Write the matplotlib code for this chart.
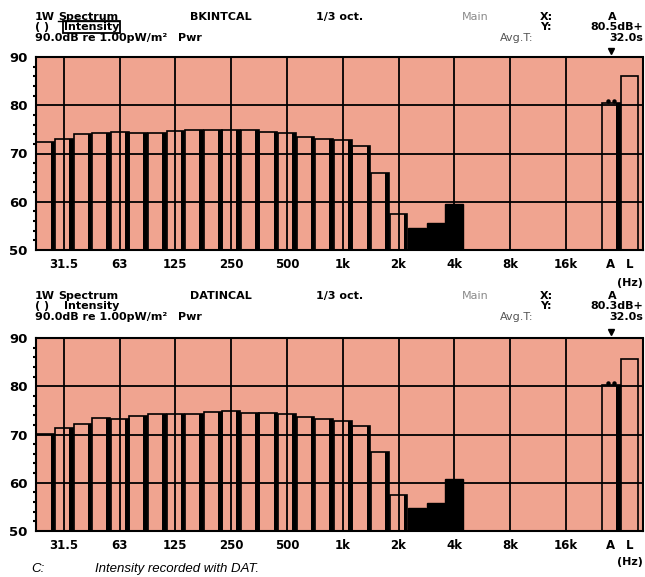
import numpy as np
import matplotlib
matplotlib.use("Agg")
import matplotlib.pyplot as plt

# 1/3-octave bands 25 Hz .. 20 kHz (index positions on the x axis)
bands = ["25", "31.5", "40", "50", "63", "80", "100", "125", "160", "200",
         "250", "315", "400", "500", "630", "800", "1k", "1.25k", "1.6k", "2k",
         "2.5k", "3.15k", "4k", "5k", "6.3k", "8k", "10k", "12.5k", "16k", "20k"]

# levels in dB (bands above 4k are below the 50 dB floor)
bk_levels = [72.3, 73.0, 74.1, 74.3, 74.4, 74.3, 74.3, 74.7, 74.8, 74.8,
             74.9, 74.8, 74.4, 74.2, 73.4, 73.0, 72.7, 71.5, 66.0, 57.4,
             54.6, 55.6, 59.6]
dat_levels = [70.2, 71.4, 72.1, 73.4, 73.3, 73.8, 74.3, 74.3, 74.3, 74.6,
              74.8, 74.4, 74.4, 74.3, 73.7, 73.3, 72.7, 71.8, 66.3, 57.5,
              54.7, 55.8, 60.7]
dark_bands = ["2.5k", "3.15k", "4k"]

bk_total = {"A": 80.5, "L": 86.0}
dat_total = {"A": 80.3, "L": 85.7}

tick_names = ["31.5", "63", "125", "250", "500", "1k", "2k", "4k", "8k", "16k"]
yticks = [50, 60, 70, 80, 90]

BG = "#f0a490"
W, H = 645, 577
FONT = "DejaVu Sans"
HS = 8  # header font size


def px(x, y):
    return x / W, 1 - y / H


def draw_panel(ax, levels, totals):
    ax.set_facecolor(BG)
    floor = 50
    x = np.arange(len(levels))
    heights = np.array(levels) - floor
    dark = np.array([bands[i] in dark_bands for i in x])

    # octave / level grid
    tick_pos = [bands.index(t) for t in tick_names]
    for p in tick_pos:
        ax.axvline(p, color="black", lw=1.3, zorder=1)
    for yv in yticks[1:-1]:
        ax.axhline(yv, color="black", lw=1.3, zorder=1)

    # open bars: thin left outline, heavy right edge
    ax.bar(x[~dark], heights[~dark], bottom=floor, width=0.96, fill=False,
           edgecolor="black", linewidth=1.2, zorder=3)
    ax.bar(x[~dark] + 0.38, heights[~dark], bottom=floor, width=0.2,
           color="black", linewidth=0, zorder=3)
    ax.bar(x[dark], heights[dark], bottom=floor, width=0.96, color="black",
           edgecolor="black", linewidth=1.0, zorder=3)

    # A and L totals
    xa = len(bands) + 0.42
    xl = xa + 1.0
    ax.bar([xa], [totals["A"] - floor], bottom=floor, width=0.96, fill=False,
           edgecolor="black", linewidth=1.2, zorder=3)
    ax.bar([xa + 0.38], [totals["A"] - floor], bottom=floor, width=0.2,
           color="black", linewidth=0, zorder=3)
    ax.bar([xl], [totals["L"] - floor], bottom=floor, width=0.9, fill=False,
           edgecolor="black", linewidth=1.2, zorder=3)
    ax.plot([xa - 0.15, xa + 0.15], [totals["A"] + 0.3] * 2, ls="none",
            marker="o", ms=2.2, color="black", zorder=4)
    ax.plot([xa], [91.2], marker="v", ms=4, color="black", clip_on=False)

    ax.set_xlim(-0.5, 32.15)
    ax.set_ylim(50, 90)
    ax.set_xticks(tick_pos + [xa, xl])
    ax.set_xticklabels(tick_names + ["A", "L"], fontsize=8.5,
                       fontweight="bold", family=FONT)
    ax.set_yticks(yticks)
    ax.set_yticklabels([str(v) for v in yticks], fontsize=9.5,
                       fontweight="bold", family=FONT)
    ax.set_yticks(np.arange(50, 91, 2), minor=True)
    ax.tick_params(axis="x", length=0, pad=6)
    ax.tick_params(axis="y", which="major", length=0, pad=6)
    ax.tick_params(axis="y", which="minor", length=2, width=1.5,
                   direction="out")
    for s in ax.spines.values():
        s.set_linewidth(1.5)
        s.set_zorder(5)
    ax.spines["right"].set_linestyle((0, (2, 1)))


def header(y0, name, yval, boxed):
    kw = dict(fontsize=HS, fontweight="bold", family=FONT, va="center")
    y1, y2, y3 = y0, y0 + 10, y0 + 21
    fig.text(*px(35, y1), "1W", **kw)
    sp = fig.text(*px(58, y1), "Spectrum", **kw)
    fig.text(*px(190, y1), name, **kw)
    fig.text(*px(316, y1), "1/3 oct.", **kw)
    fig.text(*px(462, y1), "Main", color="#8a8a8a", fontsize=HS,
             family=FONT, va="center")
    fig.text(*px(540, y1), "X:", **kw)
    fig.text(*px(608, y1), "A", **kw)
    fig.text(*px(35, y2), "( )", **kw)
    it = fig.text(*px(64, y2), "Intensity", **kw)
    fig.text(*px(540, y2), "Y:", **kw)
    fig.text(*px(643, y2), yval, ha="right", **kw)
    fig.text(*px(35, y3), "90.0dB re 1.00pW/m\u00b2", **kw)
    fig.text(*px(178, y3), "Pwr", **kw)
    fig.text(*px(500, y3), "Avg.T:", color="#555555", fontsize=HS,
             family=FONT, va="center")
    fig.text(*px(643, y3), "32.0s", ha="right", **kw)
    if boxed:
        it.set_bbox(dict(facecolor="none", edgecolor="black", lw=1.3,
                         pad=0.5))
        fig.canvas.draw()
        bb = sp.get_window_extent().transformed(fig.transFigure.inverted())
        fig.add_artist(plt.Line2D([bb.x0, bb.x1], [bb.y0 + 0.002] * 2,
                                  color="black", lw=1.0))


fig = plt.figure(figsize=(6.45, 5.77), dpi=100)
fig.patch.set_facecolor("white")

ax1 = fig.add_axes([36 / W, 1 - 250 / H, 607 / W, 193 / H])
ax2 = fig.add_axes([36 / W, 1 - 531 / H, 607 / W, 193 / H])
draw_panel(ax1, bk_levels, bk_total)
draw_panel(ax2, dat_levels, dat_total)

header(17, "BKINTCAL", "80.5dB+", True)
header(296, "DATINCAL", "80.3dB+", False)

fig.text(*px(643, 283), "(Hz)", ha="right", va="center", fontsize=8,
         fontweight="bold", family=FONT)
fig.text(*px(643, 562), "(Hz)", ha="right", va="center", fontsize=8,
         fontweight="bold", family=FONT)
fig.text(*px(31, 569), "C:", style="italic", fontsize=9.5,
         family="Liberation Sans", va="center")
fig.text(*px(95, 569), "Intensity recorded with DAT.", style="italic",
         fontsize=9.5, family="Liberation Sans", va="center")

fig.savefig("out.png", dpi=100)
